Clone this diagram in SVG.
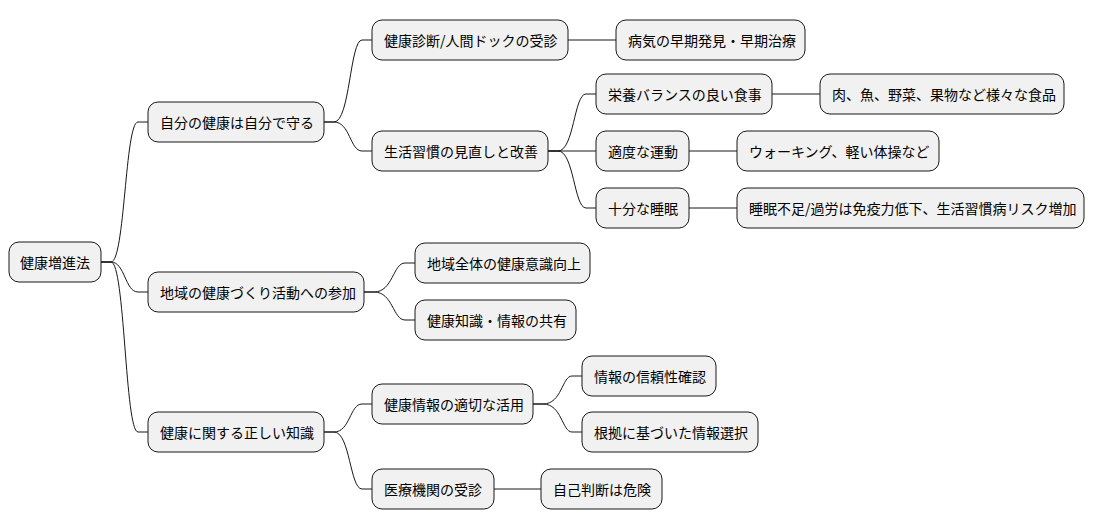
<svg xmlns="http://www.w3.org/2000/svg" width="1095" height="527" viewBox="0 0 1095 527">
<style>
.n rect{fill:#F1F1F1;stroke:#181818;stroke-width:1}
.n text{font-family:"Noto Sans CJK JP","Noto Sans",sans-serif;font-size:14px;fill:#000;dominant-baseline:central}
.c path{fill:none;stroke:#181818;stroke-width:1}
</style>
<rect width="1095" height="527" fill="#fff"/>
<g class="c">
<path d="M101,262 L111,262 C125,262 125,122 138,122 L148,122"/>
<path d="M101,262 L111,262 C125,262 125,292 138,292 L148,292"/>
<path d="M101,262 L111,262 C125,262 125,432 138,432 L148,432"/>
<path d="M324,122 L334,122 C350,122 350,40 362,40 L372,40"/>
<path d="M324,122 L334,122 C350,122 350,151 362,151 L372,151"/>
<path d="M568,40 L616,40"/>
<path d="M548,151 L558,151 C574,151 574,94 586,94 L596,94"/>
<path d="M548,151 L596,151"/>
<path d="M548,151 L558,151 C574,151 574,208 586,208 L596,208"/>
<path d="M772,94 L820,94"/>
<path d="M689,151 L737,151"/>
<path d="M689,208 L737,208"/>
<path d="M364,292 L374,292 C393,292 393,263 405,263 L415,263"/>
<path d="M364,292 L374,292 C393,292 393,320 405,320 L415,320"/>
<path d="M324,432 L334,432 C350,432 350,404 362,404 L372,404"/>
<path d="M324,432 L334,432 C350,432 350,489 362,489 L372,489"/>
<path d="M533,404 L543,404 C562,404 562,376 572,376 L582,376"/>
<path d="M533,404 L543,404 C562,404 562,432 572,432 L582,432"/>
<path d="M494,489 L541,489"/>
</g>
<g class="n" id="root"><rect x="9" y="242" width="92" height="40" rx="10"/><text x="20" y="262">健康増進法</text></g>
<g class="n" id="a"><rect x="148" y="102" width="176" height="40" rx="10"/><text x="160" y="122">自分の健康は自分で守る</text></g>
<g class="n" id="b"><rect x="148" y="272" width="216" height="40" rx="10"/><text x="160" y="292">地域の健康づくり活動への参加</text></g>
<g class="n" id="c"><rect x="148" y="412" width="176" height="40" rx="10"/><text x="160" y="432">健康に関する正しい知識</text></g>
<g class="n" id="a1"><rect x="372" y="20" width="196" height="40" rx="10"/><text x="384" y="40">健康診断/人間ドックの受診</text></g>
<g class="n" id="a2"><rect x="372" y="131" width="176" height="40" rx="10"/><text x="384" y="151">生活習慣の見直しと改善</text></g>
<g class="n" id="b1"><rect x="415" y="243" width="175" height="40" rx="10"/><text x="427" y="263">地域全体の健康意識向上</text></g>
<g class="n" id="b2"><rect x="415" y="300" width="161" height="40" rx="10"/><text x="427" y="320">健康知識・情報の共有</text></g>
<g class="n" id="c1"><rect x="372" y="384" width="161" height="40" rx="10"/><text x="384" y="404">健康情報の適切な活用</text></g>
<g class="n" id="c2"><rect x="372" y="469" width="122" height="40" rx="10"/><text x="384" y="489">医療機関の受診</text></g>
<g class="n" id="a1a"><rect x="616" y="20" width="189" height="40" rx="10"/><text x="628" y="40">病気の早期発見・早期治療</text></g>
<g class="n" id="a2a"><rect x="596" y="74" width="176" height="40" rx="10"/><text x="608" y="94">栄養バランスの良い食事</text></g>
<g class="n" id="a2b"><rect x="596" y="131" width="93" height="40" rx="10"/><text x="608" y="151">適度な運動</text></g>
<g class="n" id="a2c"><rect x="596" y="188" width="93" height="40" rx="10"/><text x="608" y="208">十分な睡眠</text></g>
<g class="n" id="a2a1"><rect x="820" y="74" width="244" height="40" rx="10"/><text x="832" y="94">肉、魚、野菜、果物など様々な食品</text></g>
<g class="n" id="a2b1"><rect x="737" y="131" width="202" height="40" rx="10"/><text x="749" y="151">ウォーキング、軽い体操など</text></g>
<g class="n" id="a2c1"><rect x="737" y="188" width="347" height="40" rx="10"/><text x="749" y="208">睡眠不足/過労は免疫力低下、生活習慣病リスク増加</text></g>
<g class="n" id="c1a"><rect x="582" y="356" width="134" height="40" rx="10"/><text x="594" y="376">情報の信頼性確認</text></g>
<g class="n" id="c1b"><rect x="582" y="412" width="176" height="40" rx="10"/><text x="594" y="432">根拠に基づいた情報選択</text></g>
<g class="n" id="c2a"><rect x="541" y="469" width="121" height="40" rx="10"/><text x="553" y="489">自己判断は危険</text></g>
</svg>
